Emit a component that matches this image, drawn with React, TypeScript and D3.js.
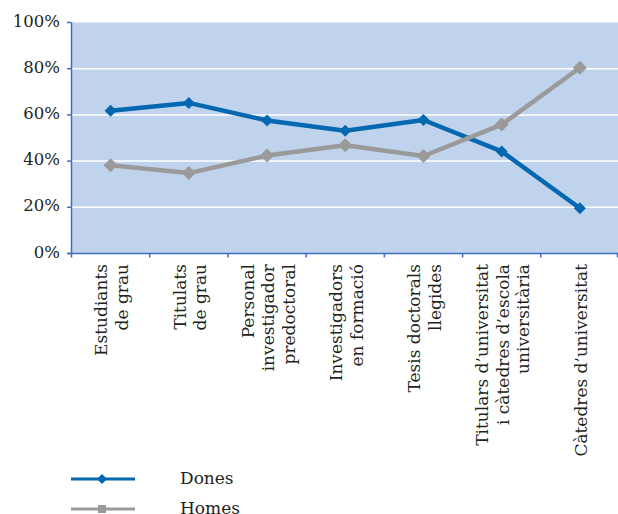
import React from "react";
import * as d3 from "d3";

const categories = [
  ["Estudiants", "de grau"],
  ["Titulats", "de grau"],
  ["Personal", "investigador", "predoctoral"],
  ["Investigadors", "en formació"],
  ["Tesis doctorals", "llegides"],
  ["Titulars d\u2019universitat", "i càtedres d\u2019escola", "universitària"],
  ["Càtedres d\u2019universitat"],
];
const dones = [61.8, 65.2, 57.6, 53.1, 57.8, 44.2, 19.6];
const homes = [38.2, 34.8, 42.4, 46.9, 42.2, 55.8, 80.4];
const yTicks = [0, 20, 40, 60, 80, 100];

const W = 618;
const H = 514;
const margin = { top: 22.5, right: -1, bottom: 260.5, left: 71.5 };
const font = "'DejaVu Serif', serif";
const blue = "#0468b1";
const grey = "#9a9a9a";
const axisColor = "#3d6fc1";

const App = () => {
  const keys = categories.map((c) => c.join(" "));
  const x = d3
    .scaleBand()
    .domain(keys)
    .range([margin.left, W - margin.right]);
  const y = d3
    .scaleLinear()
    .domain([0, 100])
    .range([H - margin.bottom, margin.top]);

  const line = d3
    .line<number>()
    .x((_, i) => x(keys[i])! + x.bandwidth() / 2)
    .y((d) => y(d));

  const diamond = (cx: number, cy: number, r: number) =>
    `M${cx},${cy - r}L${cx + r},${cy}L${cx},${cy + r}L${cx - r},${cy}Z`;

  const y0 = y(0);
  const lh = 20.5;

  return (
    <svg
      width={W}
      height={H}
      style={{ position: "absolute", left: 0, top: 0 }}
      fontFamily={font}
    >
      <rect
        x={margin.left}
        y={y(100)}
        width={W - margin.left}
        height={y0 - y(100)}
        fill="#bfd3ec"
      />
      {yTicks
        .filter((t) => t > 0 && t < 100)
        .map((t) => (
          <line
            key={t}
            x1={margin.left}
            x2={W}
            y1={y(t)}
            y2={y(t)}
            stroke="#fff"
            strokeWidth={1.5}
          />
        ))}

      {/* axes */}
      <line x1={margin.left} x2={margin.left} y1={y(100)} y2={y0} stroke={axisColor} strokeWidth={1.5} />
      <line x1={margin.left - 4} x2={W} y1={y0} y2={y0} stroke={axisColor} strokeWidth={1.5} />
      {yTicks.map((t) => (
        <g key={t}>
          <line x1={margin.left - 4.5} x2={margin.left} y1={y(t)} y2={y(t)} stroke={axisColor} strokeWidth={1.5} />
          <text x={60} y={y(t) + 4} textAnchor="end" fontSize={16.5} fill="#231f20">
            {t}%
          </text>
        </g>
      ))}
      {keys.map((k) => (
        <line key={k} x1={x(k)!} x2={x(k)!} y1={y0} y2={y0 + 4} stroke={axisColor} strokeWidth={1.5} />
      ))}
      <line x1={W - 0.5} x2={W - 0.5} y1={y0} y2={y0 + 4} stroke={axisColor} strokeWidth={1.5} />

      {/* x labels */}
      {categories.map((lines, i) => {
        const cx = x(keys[i])! + x.bandwidth() / 2 + 7;
        return (
          <g key={keys[i]}>
            {lines.map((ln, j) => {
              const bx = cx + (j - (lines.length - 1) / 2) * lh;
              return (
                <text
                  key={j}
                  transform={`translate(${bx},${264}) rotate(-90)`}
                  textAnchor="end"
                  fontSize={17}
                  fill="#231f20"
                >
                  {ln}
                </text>
              );
            })}
          </g>
        );
      })}

      {/* series */}
      <path d={line(dones)!} fill="none" stroke={blue} strokeWidth={4.5} strokeLinejoin="round" />
      {dones.map((d, i) => (
        <path key={i} d={diamond(x(keys[i])! + x.bandwidth() / 2, y(d), 6)} fill={blue} />
      ))}
      <path d={line(homes)!} fill="none" stroke={grey} strokeWidth={4.5} strokeLinejoin="round" />
      {homes.map((d, i) => (
        <path key={i} d={diamond(x(keys[i])! + x.bandwidth() / 2, y(d), 7)} fill={grey} />
      ))}

      {/* legend */}
      <line x1={71} x2={135} y1={479} y2={479} stroke={blue} strokeWidth={3} />
      <path d={diamond(102, 479, 5)} fill={blue} />
      <text x={180} y={484} fontSize={17} fill="#231f20">
        Dones
      </text>
      <line x1={71} x2={135} y1={509} y2={509} stroke={grey} strokeWidth={3} />
      <rect x={98} y={505} width={8} height={8} fill={grey} />
      <text x={180} y={514} fontSize={17} fill="#231f20">
        Homes
      </text>
    </svg>
  );
};

export default App;
